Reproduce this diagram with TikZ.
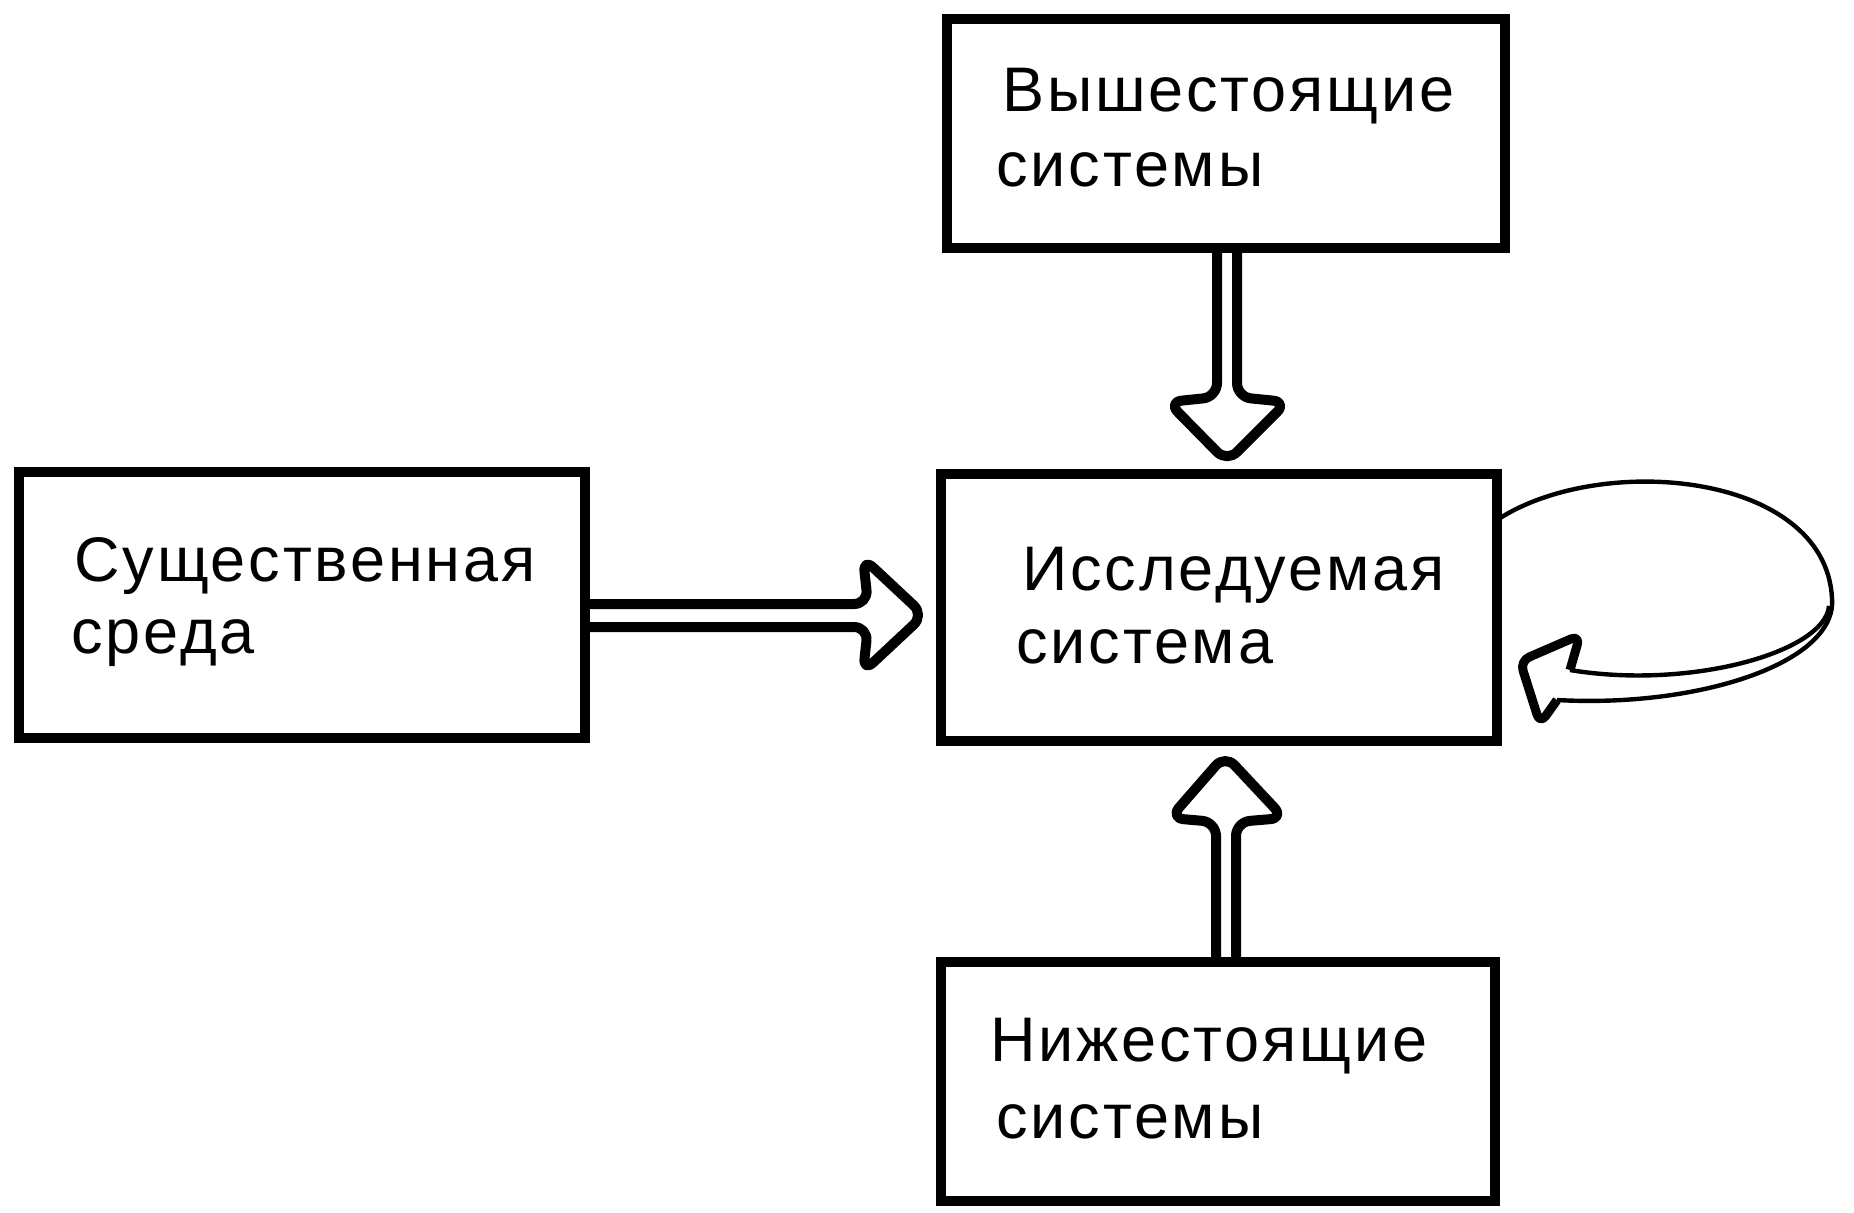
\documentclass[tikz,border=0pt]{standalone}
\usepackage{fontspec}
\setmainfont{Liberation Sans}[LetterSpace=4.5]
\usetikzlibrary{fit,calc}
\begin{document}
\begin{tikzpicture}[x=0.5pt,y=-0.5pt,
  box/.style={draw, line width=5pt, inner sep=0pt, outer sep=0pt},
  lbl/.style={anchor=base west, inner sep=0pt, font=\fontsize{31.5}{37}\selectfont},
  hollow/.style={line width=5pt, rounded corners=7pt, line join=round},
  thinline/.style={line width=2.2pt}]
\useasboundingbox (0,0) rectangle (1854,1212);
\node[box, fit={(947,19) (1505,248)}] (upper) {};
\node[box, fit={(19,472) (585,738)}] (env) {};
\node[box, fit={(941,474) (1497,741)}] (sys) {};
\node[box, fit={(941,962) (1495,1201)}] (lower) {};
\node[lbl] (t1a) at (1002,111) {Вышестоящие};
\node[lbl] (t1b) at (996,186) {системы};
\node[lbl] (t2a) at (74,581) {Существенная};
\node[lbl] (t2b) at (71,653) {среда};
\node[lbl] (t3a) at (1022,590) {Исследуемая};
\node[lbl] (t3b) at (1016,663) {система};
\node[lbl] (t4a) at (990,1061) {Нижестоящие};
\node[lbl] (t4b) at (996,1138) {системы};
% top arrow
\draw[hollow] ($(upper.south)+(-9,0)$) -- (1217,397) -- (1168,402) -- (1227,462) -- (1287,402) -- (1237,397) -- ($(upper.south)+(11,0)$);
% left arrow
\draw[hollow] ($(env.east)+(0,-1)$) -- (868,604) -- (863,558) -- (924,615) -- (863,672) -- (868,627) -- ($(env.east)+(0,22)$);
% bottom arrow
\draw[hollow] ($(lower.north)+(-2,0)$) -- (1216,822) -- (1170,818) -- (1225,755) -- (1284,818) -- (1236,822) -- ($(lower.north)+(18,0)$);
% loop
\coordinate (lp) at ($(sys.north east)+(0,46)$);
\coordinate (lr) at (1832,598);
\draw[thinline] (lp) .. controls (1600,452) and (1825,472) .. (lr);
\draw[thinline] (lr) .. controls (1838,662) and (1700,708) .. (1557,700);
\draw[thinline] (1829,606) .. controls (1825,652) and (1690,690) .. (1570,670);
\draw[hollow, line width=4.5pt, rounded corners=5pt] (1557,700) -- (1540,724) -- (1520,661) -- (1580,635) -- (1570,670);
\end{tikzpicture}
\end{document}
